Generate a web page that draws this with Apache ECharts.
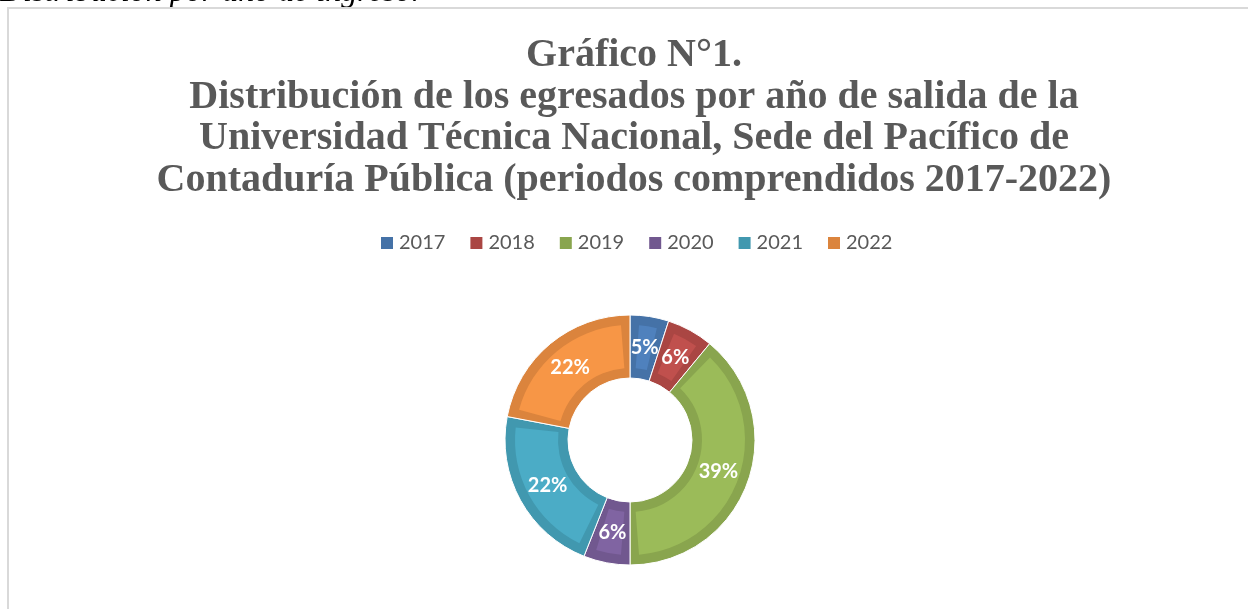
<!DOCTYPE html>
<html>
<head>
<meta charset="utf-8">
<script src="https://cdn.jsdelivr.net/npm/echarts@6/dist/echarts.min.js"></script>
<style>
html,body{margin:0;padding:0;background:#fff;}
#chart{width:1248px;height:609px;}
</style>
</head>
<body>
<div id="chart"></div>
<script>
// Data
const years = ['2017', '2018', '2019', '2020', '2021', '2022'];
const percentages = [5, 6, 39, 6, 22, 22];
const titleLines = [
  'Gráfico N°1.',
  'Distribución de los egresados por año de salida de la',
  'Universidad Técnica Nacional, Sede del Pacífico de',
  'Contaduría Pública (periodos comprendidos 2017-2022)'
];
const captionAbove = 'Distribución por año de ingreso.';

// Styles
const darkColors = ['#4572A7', '#AA4643', '#89A54E', '#71588F', '#4198AF', '#DB843D'];
const lightColors = ['#4F81BD', '#C0504D', '#9BBB59', '#8064A2', '#4BACC6', '#F79646'];

const chart = echarts.init(document.getElementById('chart'));

const outerData = years.map((y, i) => ({ name: y, value: percentages[i], itemStyle: { color: darkColors[i] } }));
const innerData = years.map((y, i) => ({ name: y, value: percentages[i], itemStyle: { color: lightColors[i] } }));
const labelData = years.map((y, i) => ({ name: y, value: percentages[i], itemStyle: { color: 'rgba(0,0,0,0)' } }));

const common = {
  type: 'pie',
  center: [630, 440],
  startAngle: 90,
  clockwise: true,
  silent: true,
  labelLine: { show: false },
  emphasis: { disabled: true }
};

chart.setOption({
  animation: false,
  backgroundColor: '#ffffff',
  title: {
    text: titleLines.join('\n'),
    left: 629,
    top: 30,
    textAlign: 'center',
    textStyle: {
      fontFamily: 'Liberation Serif',
      fontWeight: 'bold',
      fontSize: 40,
      lineHeight: 41.5,
      color: '#595959'
    }
  },
  legend: {
    data: years,
    top: 228,
    left: 374,
    itemWidth: 14,
    itemHeight: 14,
    itemGap: 23,
    icon: 'rect',
    textStyle: { fontFamily: 'Lato', fontSize: 20, color: '#595959' }
  },
  graphic: [
    {
      type: 'text',
      left: 0,
      top: -23,
      style: {
        text: captionAbove,
        font: 'italic 32px "Liberation Serif"',
        fill: '#000000'
      }
    },
    {
      type: 'rect',
      shape: { x: 7, y: 7, width: 1241, height: 2 },
      style: { fill: '#D9D9D9' }
    },
    {
      type: 'rect',
      shape: { x: 7, y: 7, width: 2, height: 602 },
      style: { fill: '#D9D9D9' }
    }
  ],
  series: [
    Object.assign({}, common, {
      name: 'outer',
      radius: [62, 125],
      itemStyle: { borderColor: '#ffffff', borderWidth: 1 },
      label: { show: false },
      data: outerData,
      z: 2
    }),
    Object.assign({}, common, {
      name: 'inner',
      radius: [72, 115],
      padAngle: 9,
      label: { show: false },
      data: innerData,
      z: 3
    }),
    Object.assign({}, common, {
      name: 'labels',
      radius: [60, 122],
      label: {
        show: true,
        position: 'inside',
        formatter: '{d}%',
        fontFamily: 'Lato',
        fontWeight: 'bold',
        fontSize: 20,
        color: '#ffffff'
      },
      data: labelData,
      z: 4
    })
  ]
});
</script>
</body>
</html>
